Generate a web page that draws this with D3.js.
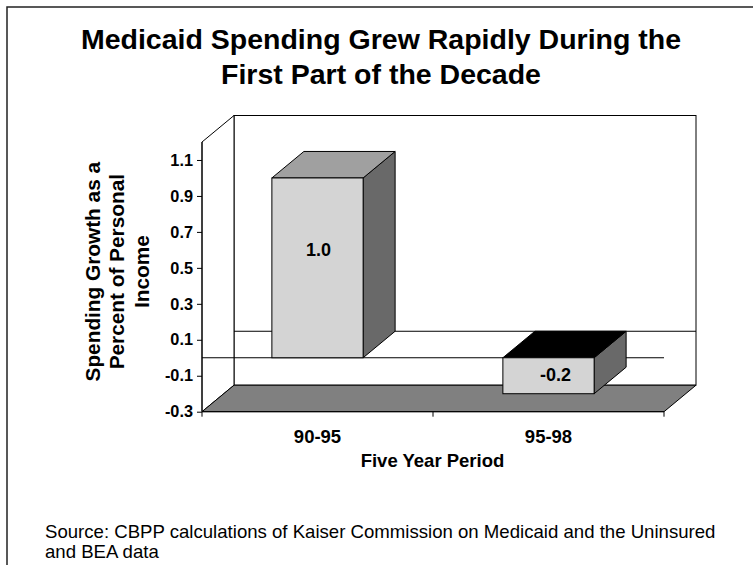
<!DOCTYPE html>
<html>
<head>
<meta charset="utf-8">
<script src="https://cdn.jsdelivr.net/npm/d3@7"></script>
<style>
  html, body { margin: 0; padding: 0; background: #fff; }
  svg { display: block; font-family: "Liberation Sans", Arial, sans-serif; }
</style>
</head>
<body>
<svg id="chart" width="753" height="565"></svg>
<script>
// ---- data ----
const categories = ["90-95", "95-98"];
const values = [1.0, -0.2];
const valueLabels = ["1.0", "-0.2"];
const yTickValues = [-0.3, -0.1, 0.1, 0.3, 0.5, 0.7, 0.9, 1.1];
const yTickLabels = ["-0.3", "-0.1", "0.1", "0.3", "0.5", "0.7", "0.9", "1.1"];
const titleLines = ["Medicaid Spending Grew Rapidly During the", "First Part of the Decade"];
const yTitleLines = ["Spending Growth as a", "Percent of Personal", "Income"];
const xTitle = "Five Year Period";
const sourceLines = ["Source: CBPP calculations of Kaiser Commission on Medicaid and the Uninsured", "and BEA data"];

// ---- layout ----
const svg = d3.select("#chart");
const pLeft = 202, pRight = 664, pTop = 142, pBottom = 411.7;
const dx = 32, dy = -26.5;

const x = d3.scaleBand().domain(categories).range([pLeft, pRight]).padding(0);
const y = d3.scaleLinear().domain([-0.3, 1.2]).range([pBottom, pTop]);
const barW = x.bandwidth() * 0.395;

// outer border
svg.append("path")
  .attr("d", `M7,565 L7,7 L753,7`)
  .attr("fill", "none").attr("stroke", "#222").attr("stroke-width", 1.5);

// back wall
svg.append("rect")
  .attr("x", pLeft + dx).attr("y", pTop + dy)
  .attr("width", pRight - pLeft).attr("height", pBottom - pTop)
  .attr("fill", "#fff").attr("stroke", "#000").attr("stroke-width", 1);

// left side wall
svg.append("polygon")
  .attr("points", [[pLeft, pTop], [pLeft + dx, pTop + dy], [pLeft + dx, pBottom + dy], [pLeft, pBottom]].join(" "))
  .attr("fill", "#fff").attr("stroke", "#000").attr("stroke-width", 1);

// floor
svg.append("polygon")
  .attr("points", [[pLeft, pBottom], [pRight, pBottom], [pRight + dx, pBottom + dy], [pLeft + dx, pBottom + dy]].join(" "))
  .attr("fill", "#808080").attr("stroke", "#000").attr("stroke-width", 1);

// zero line on back wall
svg.append("line")
  .attr("x1", pLeft + dx).attr("x2", pRight + dx)
  .attr("y1", y(0) + dy).attr("y2", y(0) + dy)
  .attr("stroke", "#000").attr("stroke-width", 1);

// front zero line
svg.append("line")
  .attr("x1", pLeft).attr("x2", pRight)
  .attr("y1", y(0)).attr("y2", y(0))
  .attr("stroke", "#000").attr("stroke-width", 1);

// bars (3D)
const bars = svg.append("g").selectAll("g").data(categories.map((c, i) => ({c, v: values[i], label: valueLabels[i]})))
  .join("g");

bars.each(function(d) {
  const g = d3.select(this);
  const xc = x(d.c) + x.bandwidth() / 2;
  const x0 = xc - barW / 2, x1 = xc + barW / 2;
  const yt = Math.min(y(d.v), y(0)), yb = Math.max(y(d.v), y(0));
  // side face
  g.append("polygon")
    .attr("points", [[x1, yt], [x1 + dx, yt + dy], [x1 + dx, yb + dy], [x1, yb]].join(" "))
    .attr("fill", "#696969").attr("stroke", "#000").attr("stroke-width", 1);
  // top face
  g.append("polygon")
    .attr("points", [[x0, yt], [x0 + dx, yt + dy], [x1 + dx, yt + dy], [x1, yt]].join(" "))
    .attr("fill", d.v >= 0 ? "#a0a0a0" : "#000").attr("stroke", "#000").attr("stroke-width", 1);
  // front face
  g.append("rect")
    .attr("x", x0).attr("y", yt).attr("width", barW).attr("height", yb - yt)
    .attr("fill", "#d4d4d4").attr("stroke", "#000").attr("stroke-width", 1);
  // value label
  const ly = d.v >= 0 ? y(d.v * 0.6) + 6 : (yt + yb) / 2 + 5;
  const lx = d.v >= 0 ? xc + 1 : xc + 7;
  g.append("text")
    .attr("x", lx).attr("y", ly)
    .attr("text-anchor", "middle")
    .attr("font-size", 18).attr("font-weight", "bold").attr("fill", "#000")
    .text(d.label);
});

// y axis
const yAxis = d3.axisLeft(y)
  .tickValues(yTickValues)
  .tickFormat((d, i) => yTickLabels[i])
  .tickSize(5).tickPadding(4);
const yg = svg.append("g").attr("transform", `translate(${pLeft},0)`).call(yAxis);
yg.select(".domain").remove();
yg.selectAll(".tick line").attr("stroke", "#000");
yg.selectAll(".tick text")
  .attr("font-family", "'Liberation Sans', Arial, sans-serif")
  .attr("font-size", 16.3).attr("font-weight", "bold").attr("fill", "#000");
svg.append("line").attr("x1", pLeft).attr("x2", pLeft).attr("y1", pTop).attr("y2", pBottom)
  .attr("stroke", "#000").attr("stroke-width", 1);

// x axis
const xAxis = d3.axisBottom(x).tickSize(0).tickPadding(0);
const xg = svg.append("g").attr("transform", `translate(0,${pBottom})`).call(xAxis);
xg.select(".domain").remove();
xg.selectAll(".tick line").remove();
xg.selectAll(".tick text")
  .attr("font-family", "'Liberation Sans', Arial, sans-serif")
  .attr("font-size", 18.5).attr("font-weight", "bold").attr("fill", "#000")
  .attr("dy", null).attr("y", 443.3 - pBottom);
svg.append("line").attr("x1", pLeft).attr("x2", pRight).attr("y1", pBottom).attr("y2", pBottom)
  .attr("stroke", "#000").attr("stroke-width", 1);
// category boundary ticks
const bounds = [pLeft].concat(categories.map(c => x(c) + x.bandwidth()));
svg.append("g").selectAll("line").data(bounds).join("line")
  .attr("x1", d => d).attr("x2", d => d)
  .attr("y1", pBottom).attr("y2", pBottom + 5)
  .attr("stroke", "#000").attr("stroke-width", 1);

// x title
svg.append("text")
  .attr("x", 432.5).attr("y", 466.7)
  .attr("text-anchor", "middle")
  .attr("font-size", 18.5).attr("font-weight", "bold").attr("fill", "#000")
  .text(xTitle);

// y title
const yBase = [100, 124, 148.5];
svg.append("g").selectAll("text").data(yTitleLines).join("text")
  .attr("transform", (d, i) => `translate(${yBase[i]},271.7) rotate(-90)`)
  .attr("text-anchor", "middle")
  .attr("font-size", 20.8).attr("font-weight", "bold").attr("fill", "#000")
  .text(d => d);

// title
const titleBase = [49, 84];
svg.append("g").selectAll("text").data(titleLines).join("text")
  .attr("x", 381).attr("y", (d, i) => titleBase[i])
  .attr("text-anchor", "middle")
  .attr("font-size", 28.5).attr("font-weight", "bold").attr("fill", "#000")
  .text(d => d);

// source
const srcBase = [538.3, 558.3];
svg.append("g").selectAll("text").data(sourceLines).join("text")
  .attr("x", 45).attr("y", (d, i) => srcBase[i])
  .attr("font-size", 18.6).attr("fill", "#000")
  .text(d => d);
</script>
</body>
</html>
